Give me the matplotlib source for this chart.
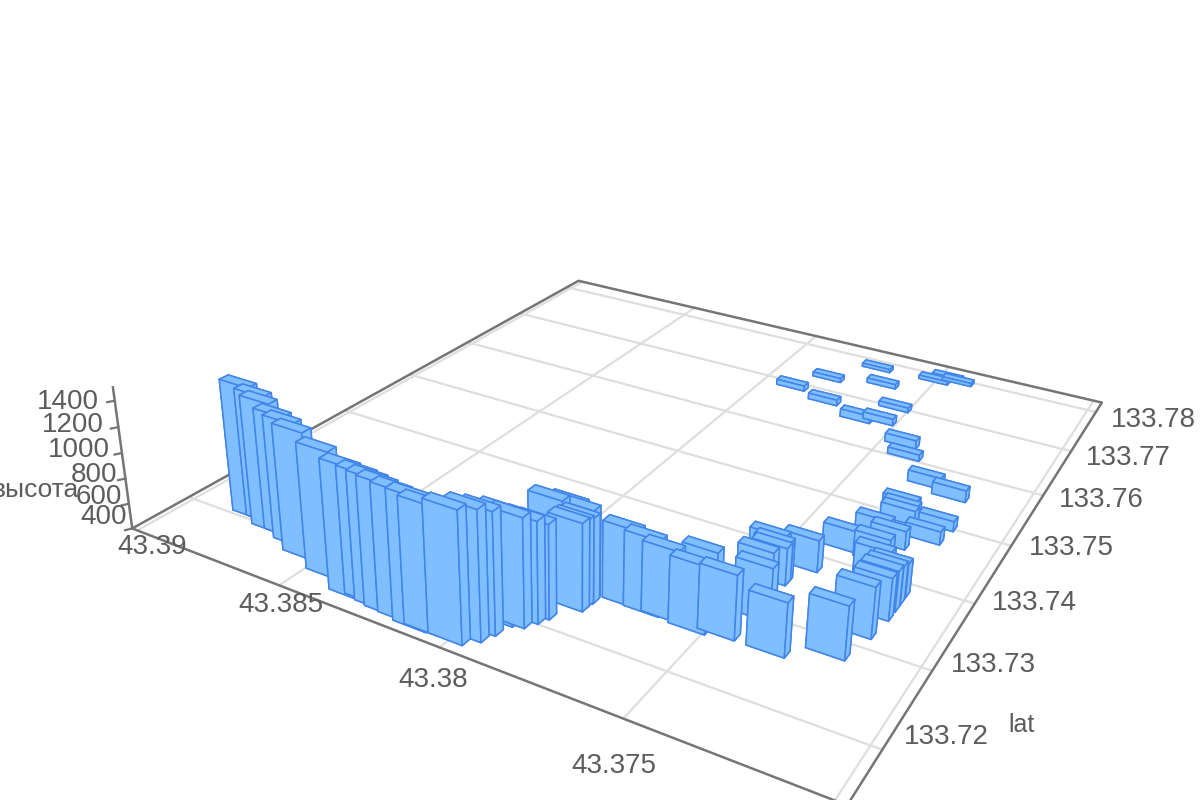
import numpy as np
import matplotlib
matplotlib.use("Agg")
import matplotlib.pyplot as plt

plt.rcParams["font.family"] = ["Liberation Sans", "DejaVu Sans"]

# front left corner of every bar
lon = [43.38866, 43.38816, 43.38771, 43.38726, 43.38672, 43.38609, 43.38497, 43.38384, 43.38339, 43.38299,
       43.38263, 43.38218, 43.38164, 43.38132, 43.3806, 43.38029, 43.38015, 43.38002, 43.37974, 43.37956,
       43.37943, 43.37893, 43.37893, 43.37889, 43.37956, 43.37929, 43.37893, 43.37785, 43.37722, 43.37673,
       43.37592, 43.3752, 43.37632, 43.37479, 43.37533, 43.37533, 43.37515, 43.37515, 43.3747, 43.37389,
       43.37263, 43.37241, 43.37416, 43.37232, 43.37232, 43.37232, 43.37232, 43.37295, 43.37322, 43.37371,
       43.37313, 43.37349, 43.3734, 43.37335, 43.37232, 43.37241, 43.3734, 43.37254, 43.37488, 43.37452,
       43.37605, 43.37673, 43.37596, 43.37947, 43.37871, 43.37758, 43.37695, 43.37556, 43.37524, 43.37484,
       43.37812]
lat = [133.7204, 133.7204, 133.7196, 133.7196, 133.7189, 133.7179, 133.7168, 133.7155, 133.7157, 133.7154,
       133.7152, 133.7151, 133.7148, 133.7149, 133.7149, 133.7159, 133.7171, 133.7187, 133.719, 133.72,
       133.7209, 133.7231, 133.7237, 133.7244, 133.7234, 133.7248, 133.7247, 133.7256, 133.7255, 133.7256,
       133.7253, 133.7258, 133.7296, 133.7293, 133.7332, 133.7353, 133.7349, 133.7345, 133.7376, 133.7258,
       133.7278, 133.7313, 133.742, 133.7342, 133.7356, 133.7367, 133.7379, 133.7395, 133.7416, 133.7458,
       133.7446, 133.7504, 133.7498, 133.7488, 133.7496, 133.7469, 133.7561, 133.755, 133.7624, 133.7602,
       133.7659, 133.7651, 133.7695, 133.7685, 133.7725, 133.7777, 133.7741, 133.778, 133.7793, 133.779,
       133.7671]
height = [1444, 1408, 1414, 1346, 1358, 1376, 1360, 1376, 1352, 1360, 1360, 1352, 1364, 1334, 1370, 1356,
          1302, 1232, 1212, 1158, 1108, 1062, 1050, 1042, 1160, 1094, 1084, 984, 970, 930, 904, 886, 776,
          808, 698, 726, 708, 690, 652, 806, 802, 790, 570, 726, 714, 694, 660, 622, 604, 528, 548, 516,
          506, 516, 482, 506, 492, 498, 472, 454, 458, 468, 442, 448, 438, 430, 442, 432, 432, 430, 452]

x_ticks = [43.39, 43.385, 43.38, 43.375, 43.37]
y_ticks = [133.72, 133.73, 133.74, 133.75, 133.76, 133.77, 133.78]
z_ticks = [400, 600, 800, 1000, 1200, 1400]

x_labels = ["43.39", "43.385", "43.38", "43.375"]
x_label_pos = [(152, 547), (281, 605), (433, 680), (614, 766)]
y_labels = ["133.72", "133.73", "133.74", "133.75", "133.76", "133.77", "133.78"]
y_label_pos = [(946, 737), (993, 665), (1034, 603), (1071, 548), (1101, 500), (1128, 458), (1153, 420)]
z_labels = ["400", "600", "800", "1000", "1200", "1400"]
z_label_pos = [(127, 517), (122, 497), (117, 475), (110, 450), (104, 425), (99, 402)]

x0, x1 = 43.36973, 43.39019
y0, y1 = 133.71387, 133.78259
z0, z1 = 400, 1500
bar_w = 0.001
bar_d = 0.001
elev, azim, roll = 23.8109, -61.80976, -1.75487
box = (0.92526, 1, 0.17318)

edge_col = "#757575"
grid_col = "#dedede"
text_col = "#5c5c5c"
bar_col = "#7fbfff"
bar_edge = "#4285e8"

fig = plt.figure(figsize=(12, 8), dpi=100)
# the reference is stretched a bit, so the axes box is not square
ax = fig.add_axes([154.53 / 1200, -148.65 / 800, 1006.57 / 1200, 1076.29 / 800], projection="3d",
                  computed_zorder=False)
ax.apply_aspect = lambda position=None: None
ax.set_xlim(x1, x0)
ax.set_ylim(y0, y1)
ax.set_zlim(z0, z1)
ax.set_box_aspect(box)
ax.view_init(elev, azim, roll)
ax.set_proj_type("persp", focal_length=0.2553)
ax.set_axis_off()

for x in x_ticks:
    ax.plot([x, x], [y0, y1], [z0, z0], color=grid_col, lw=1.6, zorder=1, clip_on=False)
for y in y_ticks:
    ax.plot([x0, x1], [y, y], [z0, z0], color=grid_col, lw=1.6, zorder=1, clip_on=False)

ax.plot([x1, x1, x0, x0, x1], [y0, y1, y1, y0, y0], [z0] * 5, color=edge_col, lw=1.8, zorder=2, clip_on=False)
ax.plot([x1, x1], [y0, y0], [z0, z1], color=edge_col, lw=1.8, zorder=2, clip_on=False)
for z in z_ticks:
    ax.plot([x1, x1 + 0.00009], [y0, y0 - 0.0005], [z, z], color=edge_col, lw=1.6, zorder=2, clip_on=False)

# far bars first so the near ones cover them
cam = np.array([np.cos(np.radians(azim)), np.sin(np.radians(azim))])
depth = cam[0] * (x1 - np.array(lon)) / (x1 - x0) * box[0] + cam[1] * (np.array(lat) - y0) / (y1 - y0)
order = np.argsort(depth)
for rank, i in enumerate(order):
    ax.bar3d(lon[i] - bar_w, lat[i], z0, bar_w, bar_d, height[i] - z0, color=bar_col, edgecolor=bar_edge,
             linewidth=1.1, shade=False, zorder=10 + rank)

for txt, pos in zip(x_labels + y_labels, x_label_pos + y_label_pos):
    fig.text(pos[0] / 1200, 1 - pos[1] / 800, txt, ha="center", va="center", fontsize=20, color=text_col)
for txt, pos in zip(z_labels, z_label_pos):
    fig.text(pos[0] / 1200, 1 - pos[1] / 800, txt, ha="right", va="center", fontsize=20, color=text_col)

fig.text(78 / 1200, 1 - 490 / 800, "высота", ha="right", va="center", fontsize=19, color=text_col)
fig.text(1021 / 1200, 1 - 725 / 800, "lat", ha="center", va="center", fontsize=18, color=text_col)

fig.savefig("out.png", dpi=100)
